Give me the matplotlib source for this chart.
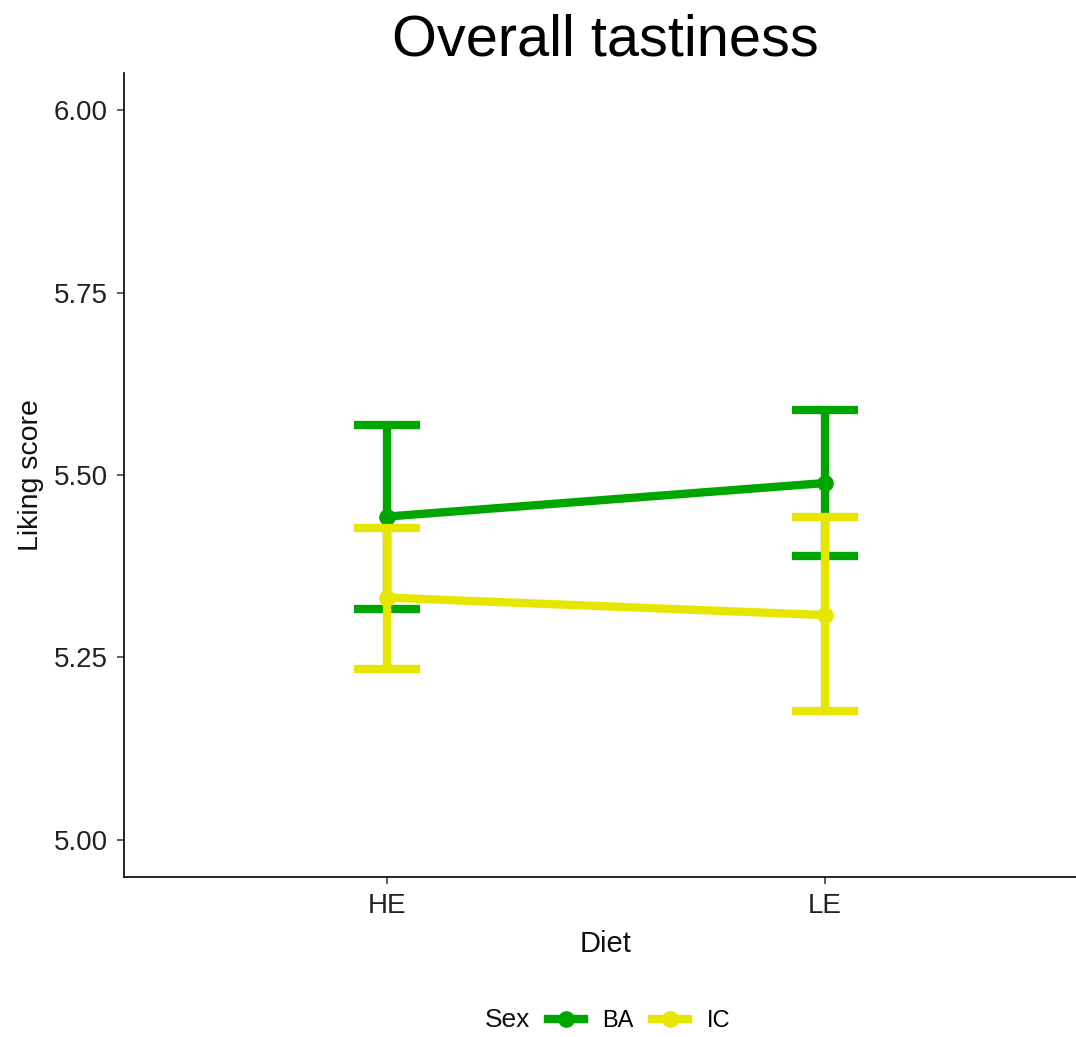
import numpy as np
import matplotlib.pyplot as plt
from matplotlib.lines import Line2D

plt.rcParams['font.family'] = ['Liberation Sans', 'DejaVu Sans']

# mean liking score and error bar limits per group
diet = ['HE', 'LE']
sex = ['BA', 'IC']
colours = ['#00A600', '#E6E600']
means = {'BA': [5.443, 5.489], 'IC': [5.332, 5.308]}
upper = {'BA': [5.569, 5.589], 'IC': [5.428, 5.442]}
lower = {'BA': [5.316, 5.389], 'IC': [5.234, 5.177]}

fig = plt.figure(figsize=(10.76, 10.37), dpi=100)
# panel runs a bit past the right edge of the canvas
ax = fig.add_axes([0.1152, 0.1543, 0.8959, 0.7753])

x = np.arange(1, len(diet) + 1)
for k, s in enumerate(sex):
    m = np.array(means[s])
    lo = m - np.array(lower[s])
    hi = np.array(upper[s]) - m
    ax.errorbar(x, m, yerr=[lo, hi], color=colours[k], lw=6, marker='o', ms=11,
                capsize=24, capthick=6, elinewidth=6, zorder=2 + k)

ax.set_xlim(0.4, 2.6)
ax.set_ylim(4.949, 6.051)
ax.set_xticks(x)
ax.set_xticklabels(diet)
ax.set_yticks([5.0, 5.25, 5.5, 5.75, 6.0])
ax.set_yticklabels(['5.00', '5.25', '5.50', '5.75', '6.00'])
ax.tick_params(labelsize=20, length=5, width=1.1, pad=6.5, color='#333333', labelcolor='#222222')
for side in ['top', 'right']:
    ax.spines[side].set_visible(False)
for side in ['left', 'bottom']:
    ax.spines[side].set_linewidth(1.2)

ax.set_xlabel('Diet', fontsize=21, color='#111111', labelpad=8)
ax.set_ylabel('Liking score', fontsize=20.5, color='#111111', labelpad=7)
fig.text(605 / 1076, 1 - 55 / 1037, 'Overall tastiness', fontsize=41.5,
         ha='center', va='baseline')

handles = [Line2D([], [], color=c, lw=6, marker='o', ms=11) for c in colours]
fig.text(485 / 1076, 1 - 1027 / 1037, 'Sex', fontsize=19, va='baseline', color='#111111')
fig.legend(handles, sex, loc='center left', bbox_to_anchor=(548 / 1076, 1 - 1021 / 1037),
           ncol=2, frameon=False, fontsize=17, handlelength=1.53, columnspacing=0.8,
           handletextpad=0.76, borderpad=0, borderaxespad=0)

fig.savefig('out.png', dpi=100)
